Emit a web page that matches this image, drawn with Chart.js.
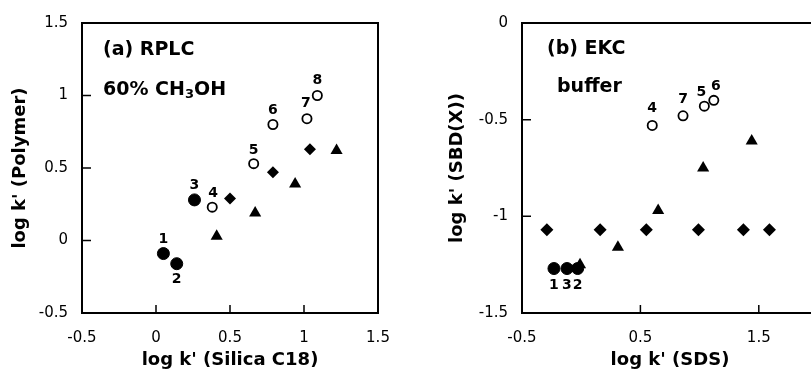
<!DOCTYPE html>
<html>
<head>
<meta charset="utf-8">
<script src="https://cdn.jsdelivr.net/npm/chart.js@4.4.1/dist/chart.umd.min.js"></script>
<style>
  html, body { margin: 0; padding: 0; background: #fff; overflow: hidden; width: 811px; height: 373px; }
  #left { position: absolute; left: 0; top: 0; }
  #right { position: absolute; left: 400px; top: 0; }
</style>
</head>
<body>
<canvas id="left" width="400" height="373"></canvas>
<canvas id="right" width="440" height="373"></canvas>
<script>
//---------------DATA (a) RPLC-------------
const aFilledX = [0.05, 0.14, 0.26];
const aFilledY = [-0.09, -0.16, 0.28];
const aFilledNum = ["1", "2", "3"];
const aOpenX = [0.38, 0.66, 0.79, 1.02, 1.09];
const aOpenY = [0.23, 0.53, 0.80, 0.84, 1.00];
const aOpenNum = ["4", "5", "6", "7", "8"];
const aDiamondX = [0.50, 0.79, 1.04];
const aDiamondY = [0.29, 0.47, 0.63];
const aTriX = [0.41, 0.67, 0.94, 1.22];
const aTriY = [0.03, 0.19, 0.39, 0.62];
const aXTicks = [-0.5, 0, 0.5, 1, 1.5];
const aYTicks = [-0.5, 0, 0.5, 1, 1.5];

//---------------DATA (b) EKC-------------
const bFilledX = [-0.23, -0.12, -0.03];
const bFilledY = [-1.27, -1.27, -1.27];
const bFilledNum = ["1", "3", "2"];
const bOpenX = [0.60, 0.86, 1.04, 1.12];
const bOpenY = [-0.53, -0.48, -0.43, -0.40];
const bOpenNum = ["4", "7", "5", "6"];
const bDiamondX = [-0.29, 0.16, 0.55, 0.99, 1.37, 1.59];
const bDiamondY = [-1.07, -1.07, -1.07, -1.07, -1.07, -1.07];
const bTriX = [-0.01, 0.31, 0.65, 1.03, 1.44];
const bTriY = [-1.25, -1.16, -0.97, -0.75, -0.61];
const bXTicks = [-0.5, 0.5, 1.5];
const bYTicks = [-1.5, -1, -0.5, 0];

Chart.defaults.font.family = "'DejaVu Sans', sans-serif";
Chart.defaults.color = "#000";

function pts(xs, ys) {
  return xs.map((x, i) => ({ x: x, y: ys[i] }));
}
function fmt(v) {
  return String(+Number(v).toFixed(2));
}

// box round the plot + little ticks pointing inward
const frameTicks = {
  id: "frameTicks",
  afterDraw(chart) {
    const { ctx, chartArea: a, scales } = chart;
    ctx.save();
    ctx.strokeStyle = "#000";
    ctx.lineWidth = 2;
    ctx.strokeRect(a.left, a.top, a.right - a.left, a.bottom - a.top);
    ctx.lineWidth = 1.5;
    ctx.beginPath();
    scales.y.ticks.forEach((t, i) => {
      const py = scales.y.getPixelForTick(i);
      ctx.moveTo(a.left, py);
      ctx.lineTo(a.left + 9, py);
    });
    scales.x.ticks.forEach((t, i) => {
      const px = scales.x.getPixelForTick(i);
      ctx.moveTo(px, a.bottom);
      ctx.lineTo(px, a.bottom - 8);
    });
    ctx.stroke();
    ctx.restore();
  },
};

// compound numbers next to the markers
const numbers = {
  id: "numbers",
  afterDatasetsDraw(chart) {
    const ctx = chart.ctx;
    ctx.save();
    ctx.font = "bold 14px 'DejaVu Sans'";
    ctx.fillStyle = "#000";
    ctx.textAlign = "center";
    ctx.textBaseline = "middle";
    chart.data.datasets.forEach((ds, i) => {
      if (!ds.nums) return;
      const meta = chart.getDatasetMeta(i);
      meta.data.forEach((el, j) => {
        const off = ds.numOff[j];
        ctx.fillText(ds.nums[j], el.x + off[0], el.y + off[1]);
      });
    });
    ctx.restore();
  },
};

// text notes inside the panel
const notes = {
  id: "notes",
  afterDraw(chart, args, opts) {
    const { ctx, chartArea: a } = chart;
    ctx.save();
    ctx.fillStyle = "#000";
    ctx.textBaseline = "middle";
    ctx.textAlign = "left";
    (opts.items || []).forEach((n) => {
      let x = a.left + n.dx;
      const y = a.top + n.dy;
      n.parts.forEach((p) => {
        ctx.font = p.sub ? "bold 13px 'DejaVu Sans'" : "bold 19px 'DejaVu Sans'";
        ctx.fillText(p.t, x, y + (p.sub ? 5 : 0));
        x += ctx.measureText(p.t).width;
      });
    });
    ctx.restore();
  },
};

function makeChart(id, cfg) {
  return new Chart(document.getElementById(id), {
    type: "scatter",
    data: { datasets: cfg.datasets },
    options: {
      responsive: false,
      animation: false,
      devicePixelRatio: 1,
      layout: { padding: { left: 0, top: 21, right: 22, bottom: 0 } },
      plugins: { legend: { display: false }, tooltip: { enabled: false }, notes: { items: cfg.notes } },
      scales: {
        x: {
          min: cfg.xMin, max: cfg.xMax,
          grid: { display: false, drawTicks: false },
          border: { display: false },
          ticks: { padding: 16, font: { size: 15 }, maxRotation: 0, autoSkip: false, callback: fmt },
          afterBuildTicks: (s) => { s.ticks = cfg.xTicks.map((v) => ({ value: v })); },
          title: { display: true, text: cfg.xTitle, font: { size: 18, weight: "bold" }, padding: { top: 0, bottom: 2 } },
          afterFit: (s) => { s.height = 60; s.paddingLeft = 0; s.paddingRight = 0; },
        },
        y: {
          min: cfg.yMin, max: cfg.yMax,
          grid: { display: false, drawTicks: false },
          border: { display: false },
          ticks: { padding: 14, font: { size: 15 }, autoSkip: false, callback: fmt },
          afterBuildTicks: (s) => { s.ticks = cfg.yTicks.map((v) => ({ value: v })); },
          title: { display: true, text: cfg.yTitle, font: { size: 18, weight: "bold" }, padding: { top: cfg.yTitlePad, bottom: 0 } },
          afterFit: (s) => { s.width = cfg.yWidth; },
        },
      },
    },
    plugins: [frameTicks, numbers, notes],
  });
}

function sets(fx, fy, fn, fOff, ox, oy, on, oOff, dx, dy, tx, ty, dR) {
  return [
    { data: pts(fx, fy), pointStyle: "circle", pointRadius: 6, backgroundColor: "#000", borderColor: "#000", borderWidth: 1, nums: fn, numOff: fOff },
    { data: pts(ox, oy), pointStyle: "circle", pointRadius: 4.6, backgroundColor: "#fff", borderColor: "#000", borderWidth: 1.8, nums: on, numOff: oOff },
    { data: pts(dx, dy), pointStyle: "rectRot", pointRadius: dR, backgroundColor: "#000", borderColor: "#000", borderWidth: 0 },
    { data: pts(tx, ty), pointStyle: "triangle", pointRadius: 7, backgroundColor: "#000", borderColor: "#000", borderWidth: 0 },
  ];
}

makeChart("left", {
  datasets: sets(
    aFilledX, aFilledY, aFilledNum, [[0, -14], [0, 16], [0, -15]],
    aOpenX, aOpenY, aOpenNum, [[1, -14], [0, -13], [0, -14], [-1, -15], [0, -15]],
    aDiamondX, aDiamondY, aTriX, aTriY, 6
  ),
  notes: [
    { dx: 21, dy: 27, parts: [{ t: "(a) RPLC" }] },
    { dx: 21, dy: 67, parts: [{ t: "60% CH" }, { t: "3", sub: true }, { t: "OH" }] },
  ],
  xMin: -0.5, xMax: 1.5, xTicks: aXTicks,
  yMin: -0.5, yMax: 1.5, yTicks: aYTicks,
  xTitle: "log k' (Silica C18)",
  yTitle: "log k' (Polymer)",
  yTitlePad: 10,
  yWidth: 82,
});

makeChart("right", {
  datasets: sets(
    bFilledX, bFilledY, bFilledNum, [[0, 17], [0, 17], [0, 17]],
    bOpenX, bOpenY, bOpenNum, [[0, -17], [0, -16], [-3, -14], [2, -14]],
    bDiamondX, bDiamondY, bTriX, bTriY, 6.5
  ),
  notes: [
    { dx: 25, dy: 26, parts: [{ t: "(b) EKC" }] },
    { dx: 35, dy: 64, parts: [{ t: "buffer" }] },
  ],
  xMin: -0.5, xMax: 2, xTicks: bXTicks,
  yMin: -1.5, yMax: 0, yTicks: bYTicks,
  xTitle: "log k' (SDS)",
  yTitle: "log k' (SBD(X))",
  yTitlePad: 47,
  yWidth: 122,
});
</script>
</body>
</html>
